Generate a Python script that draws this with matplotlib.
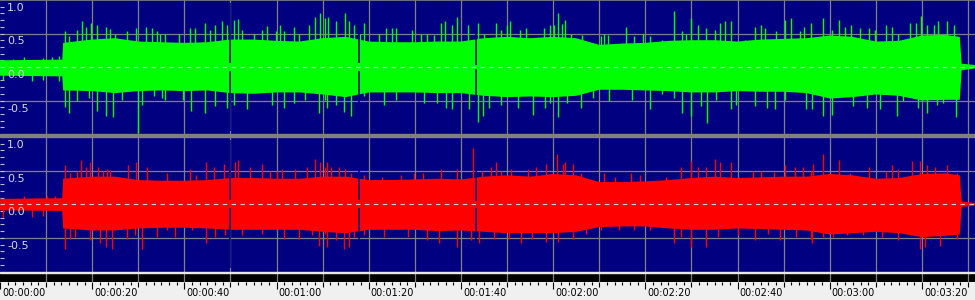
import matplotlib
matplotlib.use("Agg")
import matplotlib.pyplot as plt
import matplotlib.transforms as mtransforms
import numpy as np
from matplotlib.patches import Rectangle

# ---- data (seconds, amplitude) ----
T_END = 211.5

env_t = [0, 13.5, 13.7, 20, 25, 30, 35, 40, 45, 50, 55, 60, 65, 70, 75, 80, 85, 90, 95,
         100, 105, 110, 115, 120, 125, 130, 135, 140, 145, 150, 155, 160, 165, 170, 175,
         180, 185, 190, 195, 200, 205, 208.2, 208.6, 211.5]

left_hi = [0.10, 0.11,
           0.36, 0.41, 0.43, 0.38, 0.37, 0.36, 0.37, 0.41, 0.41, 0.39, 0.38, 0.43, 0.45,
           0.38, 0.37, 0.37, 0.38, 0.38, 0.43, 0.45, 0.43, 0.45, 0.43, 0.33, 0.35, 0.36,
           0.39, 0.40, 0.40, 0.38, 0.41, 0.42, 0.43, 0.47, 0.45, 0.38, 0.39, 0.47, 0.48, 0.45,
           0.05, 0.03]
left_lo = [-0.13, -0.14,
           -0.35, -0.36, -0.39, -0.36, -0.35, -0.36, -0.35, -0.39, -0.40, -0.38, -0.38,
           -0.41, -0.45, -0.38, -0.38, -0.38, -0.39, -0.39, -0.43, -0.45, -0.44, -0.45,
           -0.43, -0.34, -0.34, -0.35, -0.36, -0.38, -0.38, -0.36, -0.37, -0.37, -0.39,
           -0.47, -0.45, -0.41, -0.43, -0.50, -0.49, -0.49,
           -0.05, -0.02]
right_hi = [0.08, 0.09,
            0.38, 0.41, 0.41, 0.36, 0.35, 0.35, 0.36, 0.39, 0.39, 0.38, 0.38, 0.41, 0.41,
            0.36, 0.36, 0.37, 0.38, 0.37, 0.41, 0.43, 0.41, 0.45, 0.43, 0.33, 0.33, 0.34,
            0.36, 0.39, 0.41, 0.39, 0.40, 0.41, 0.41, 0.45, 0.43, 0.38, 0.39, 0.45, 0.46, 0.43,
            0.04, 0.02]
right_lo = [-0.09, -0.10,
            -0.36, -0.39, -0.39, -0.36, -0.35, -0.35, -0.36, -0.38, -0.38, -0.38, -0.38,
            -0.41, -0.43, -0.38, -0.38, -0.38, -0.40, -0.39, -0.41, -0.43, -0.43, -0.43,
            -0.41, -0.34, -0.33, -0.33, -0.36, -0.38, -0.38, -0.36, -0.37, -0.38, -0.39,
            -0.45, -0.43, -0.41, -0.43, -0.49, -0.47, -0.45,
            -0.04, -0.02]

left_peaks_up = [
    (0.7, 0.11), (2.9, 0.12), (5.1, 0.15), (9.4, 0.13), (11.2, 0.15), (12.7, 0.16),
    (14.1, 0.54), (15.0, 0.47), (16.8, 0.55), (17.7, 0.69), (18.7, 0.60), (19.7, 0.66),
    (21.0, 0.63), (23.0, 0.60), (23.9, 0.56), (24.9, 0.50), (27.5, 0.53), (29.6, 0.58),
    (31.7, 0.59), (32.9, 0.58), (34.0, 0.53), (34.7, 0.50), (35.9, 0.50), (38.8, 0.50),
    (41.3, 0.58), (42.4, 0.58), (44.5, 0.65), (45.6, 0.55), (46.7, 0.63), (48.2, 0.68),
    (49.2, 0.63), (50.7, 0.70), (51.6, 0.71), (52.5, 0.55), (55.0, 0.50), (56.8, 0.55),
    (57.9, 0.61), (59.9, 0.53), (60.8, 0.62), (61.5, 0.53), (63.7, 0.60), (64.8, 0.50),
    (67.0, 0.63), (68.4, 0.75), (69.5, 0.80), (70.6, 0.73), (71.1, 0.75), (72.8, 0.68),
    (74.8, 0.80), (75.7, 0.68), (76.8, 0.63), (78.2, 0.50), (79.0, 0.65), (82.2, 0.50),
    (83.7, 0.58), (85.1, 0.58), (86.0, 0.58), (89.4, 0.55), (91.3, 0.50), (92.7, 0.50),
    (94.1, 0.48), (95.6, 0.65), (96.5, 0.68), (98.1, 0.63), (99.1, 0.75), (101.5, 0.63),
    (103.7, 0.65), (105.0, 0.50), (107.6, 0.65), (108.7, 0.55), (109.9, 0.63), (110.6, 0.68),
    (112.7, 0.55), (114.0, 0.58), (118.1, 0.58), (119.2, 0.63), (120.2, 0.63), (121.0, 0.80),
    (121.9, 0.64), (122.6, 0.70), (123.9, 0.50), (126.2, 0.48), (130.4, 0.46), (131.1, 0.50),
    (131.8, 0.48), (135.8, 0.60), (137.6, 0.46), (139.4, 0.50), (140.9, 0.46), (143.6, 0.41),
    (146.3, 0.83), (147.9, 0.53), (148.9, 0.50), (149.8, 0.73), (151.4, 0.63), (153.2, 0.58),
    (155.0, 0.55), (156.1, 0.65), (157.3, 0.68), (158.5, 0.68), (161.5, 0.41), (163.8, 0.60),
    (165.0, 0.63), (165.9, 0.58), (168.4, 0.53), (170.3, 0.70), (171.6, 0.73), (173.5, 0.53),
    (174.5, 0.60), (175.9, 0.65), (178.6, 0.73), (180.4, 0.55), (182.1, 0.70), (183.3, 0.60),
    (184.7, 0.63), (186.6, 0.58), (188.4, 0.58), (189.8, 0.55), (192.3, 0.63), (193.6, 0.60),
    (194.9, 0.50), (197.4, 0.65), (198.8, 0.65), (199.7, 0.76), (201.0, 0.63), (202.5, 0.63),
    (203.5, 0.68), (205.4, 0.68), (206.9, 0.63)]
left_peaks_dn = [
    (0.7, -0.19), (6.9, -0.21), (9.4, -0.19), (12.7, -0.21),
    (14.1, -0.59), (15.0, -0.69), (16.8, -0.51), (19.4, -0.46), (21.0, -0.66), (23.0, -0.73),
    (24.6, -0.74), (26.4, -0.49), (29.9, -0.98), (30.9, -0.56), (33.3, -0.44), (35.1, -0.46),
    (35.9, -0.49), (39.8, -0.49), (41.5, -0.66), (44.5, -0.68), (46.7, -0.58), (49.2, -0.61),
    (50.7, -0.56), (53.6, -0.63), (59.0, -0.56), (61.5, -0.61), (63.7, -0.53), (66.2, -0.49),
    (69.1, -0.68), (70.6, -0.49), (71.0, -0.61), (72.8, -0.56), (74.6, -0.67), (76.2, -0.73),
    (79.0, -0.44), (83.3, -0.56), (85.8, -0.49), (92.0, -0.53), (94.9, -0.53), (96.7, -0.61),
    (98.1, -0.63), (101.7, -0.63), (103.7, -0.82), (104.8, -0.73), (106.1, -0.61),
    (108.7, -0.56), (112.4, -0.61), (115.7, -0.71), (118.3, -0.61), (119.2, -0.53),
    (121.0, -0.74), (123.1, -0.53), (126.0, -0.61), (128.6, -0.46), (132.2, -0.51),
    (137.2, -0.49), (141.1, -0.63), (143.6, -0.41), (146.2, -0.46), (147.9, -0.68),
    (149.8, -0.73), (152.0, -0.58), (153.4, -0.83), (155.4, -0.49), (158.5, -0.63),
    (159.7, -0.56), (163.8, -0.58), (166.4, -0.61), (168.2, -0.63), (170.3, -0.49),
    (174.8, -0.63), (176.2, -0.63), (178.6, -0.73), (180.4, -0.71), (185.1, -0.58),
    (188.0, -0.61), (190.9, -0.63), (194.5, -0.73), (195.9, -0.51), (199.2, -0.61),
    (201.0, -0.68), (203.2, -0.56), (204.6, -0.53), (207.4, -0.74)]

right_peaks_up = [
    (5.1, 0.13), (10.1, 0.13), (11.9, 0.12),
    (14.2, 0.58), (15.2, 0.46), (16.8, 0.50), (17.6, 0.66), (18.7, 0.55), (19.5, 0.63),
    (21.3, 0.55), (22.3, 0.50), (23.3, 0.53), (23.9, 0.51), (27.8, 0.58), (29.6, 0.63),
    (31.8, 0.55), (36.2, 0.46), (41.3, 0.53), (42.5, 0.43), (44.7, 0.63), (46.4, 0.55),
    (48.5, 0.60), (49.6, 0.55), (50.9, 0.63), (51.6, 0.66), (54.3, 0.55), (56.8, 0.60),
    (58.6, 0.50), (60.1, 0.50), (61.2, 0.53), (64.1, 0.53), (66.6, 0.55), (68.4, 0.68),
    (69.5, 0.63), (70.6, 0.55), (71.0, 0.63), (71.9, 0.55), (73.5, 0.55), (74.8, 0.53),
    (76.1, 0.46), (79.0, 0.43), (82.9, 0.41), (86.9, 0.43), (89.7, 0.46), (91.8, 0.46),
    (95.6, 0.53), (99.2, 0.53), (102.5, 0.84), (104.6, 0.50), (106.5, 0.55), (107.7, 0.63),
    (108.7, 0.50), (110.8, 0.53), (114.5, 0.53), (116.3, 0.55), (118.4, 0.60), (120.9, 0.74),
    (122.1, 0.60), (122.6, 0.63), (124.4, 0.60), (126.0, 0.46), (131.1, 0.46), (133.3, 0.41),
    (136.9, 0.46), (138.8, 0.43), (144.5, 0.41), (147.8, 0.55), (149.8, 0.65), (151.4, 0.55),
    (153.2, 0.55), (155.0, 0.68), (156.1, 0.63), (158.5, 0.63), (163.3, 0.50), (165.0, 0.50),
    (168.0, 0.48), (170.2, 0.58), (172.4, 0.55), (174.2, 0.55), (176.0, 0.50), (176.4, 0.60),
    (178.6, 0.74), (182.1, 0.66), (184.4, 0.46), (188.6, 0.55), (192.3, 0.50), (193.4, 0.58),
    (194.9, 0.53), (197.8, 0.64), (199.6, 0.64), (201.0, 0.58), (202.8, 0.55), (205.4, 0.58),
    (207.5, 0.46)]
right_peaks_dn = [
    (0.7, -0.19), (6.9, -0.19), (9.4, -0.18),
    (14.2, -0.67), (15.2, -0.51), (16.3, -0.49), (19.5, -0.53), (21.7, -0.58), (23.1, -0.63),
    (24.2, -0.66), (27.5, -0.51), (29.3, -0.46), (30.9, -0.66), (34.0, -0.49), (36.2, -0.39),
    (38.0, -0.49), (41.6, -0.39), (44.7, -0.58), (46.7, -0.49), (48.9, -0.46), (52.5, -0.46),
    (56.8, -0.44), (61.5, -0.51), (64.8, -0.51), (67.7, -0.46), (69.3, -0.62), (70.4, -0.44),
    (71.0, -0.63), (72.8, -0.53), (74.6, -0.66), (75.7, -0.63), (76.8, -0.49), (79.0, -0.46),
    (83.3, -0.49), (88.4, -0.49), (92.7, -0.53), (95.2, -0.58), (99.1, -0.63), (102.1, -0.53),
    (103.9, -0.58), (107.2, -0.51), (110.5, -0.51), (113.0, -0.58), (115.5, -0.51),
    (118.4, -0.56), (121.0, -0.56), (124.2, -0.51), (127.1, -0.44), (130.4, -0.39),
    (134.3, -0.39), (137.6, -0.39), (140.9, -0.39), (146.3, -0.58), (147.8, -0.49),
    (149.8, -0.63), (153.2, -0.64), (155.7, -0.49), (160.1, -0.46), (163.7, -0.53),
    (166.6, -0.44), (169.3, -0.53), (172.7, -0.49), (176.0, -0.52), (176.1, -0.58),
    (178.6, -0.49), (180.8, -0.49), (183.7, -0.46), (187.3, -0.46), (191.3, -0.49),
    (194.9, -0.53), (199.6, -0.66), (200.7, -0.63), (203.9, -0.62), (207.5, -0.51)]

# short quiet moments inside the loud part: (time, remaining amplitude)
left_gaps = [(50.0, 0.06), (77.9, 0.06), (103.3, 0.03)]
right_gaps = [(50.0, 0.06), (77.9, 0.06), (103.2, 0.05)]

amp_labels = ["1.0", "0.5", "0.0", "-0.5"]
amp_values = [1.0, 0.5, 0.0, -0.5]
time_labels = ["00:00:00", "00:00:20", "00:00:40", "00:01:00", "00:01:20", "00:01:40",
               "00:02:00", "00:02:20", "00:02:40", "00:03:00", "00:03:20"]
time_values = [0, 20, 40, 60, 80, 100, 120, 140, 160, 180, 200]

NAVY = "#000080"
GRID = "#808080"

W, H = 975, 300
fig = plt.figure(figsize=(W / 100, H / 100), dpi=100)
fig.patch.set_facecolor("#f0f0f0")


def fy(y):
    return 1 - y / H


def draw_channel(ax, color, hi, lo, ups, dns, gaps):
    ax.set_facecolor(NAVY)
    ax.set_xlim(0, T_END)
    ax.set_ylim(-1, 1)
    for s in ax.spines.values():
        s.set_visible(False)
    ax.set_xticks([])
    ax.set_yticks(np.round(np.arange(-0.9, 1.0, 0.1), 1))
    ax.set_yticklabels([])
    ax.tick_params(axis="y", direction="in", length=3, width=0.8, color="#c0c0c0", pad=0)
    for t in range(10, 220, 10):
        ax.axvline(t, color=GRID, lw=0.9, zorder=1)
    for v in (1.0, 0.5, -0.5):
        ax.axhline(v, color=GRID, lw=1.2 if v == 1.0 else 0.9, zorder=1)

    ax.fill_between(env_t, lo, hi, color=color, lw=0, zorder=2)
    ut, uv = zip(*ups)
    dt, dv = zip(*dns)
    ax.vlines(ut, 0, uv, color=color, lw=1.0, zorder=2)
    ax.vlines(dt, 0, dv, color=color, lw=1.0, zorder=2)
    gt, gv = zip(*gaps)
    ax.vlines(gt, gv, 0.95, color=NAVY, lw=1.1, zorder=2.5)
    ax.vlines(gt, -0.95, [-g for g in gv], color=NAVY, lw=1.1, zorder=2.5)
    ax.axhline(0, color="#d0d0d0", lw=0.8, dashes=(4, 4), zorder=3)

    tr = mtransforms.offset_copy(
        mtransforms.blended_transform_factory(ax.transAxes, ax.transData),
        fig=fig, x=0, y=-3, units="dots")
    for lab, v in zip(amp_labels, amp_values):
        ax.text(7 / W, v, lab, transform=tr, ha="left", va="top",
                color="#d8d8d8", fontsize=8, zorder=4)


ax_top = fig.add_axes([0, fy(134), 1, 134 / H])
ax_bot = fig.add_axes([0, fy(271.5), 1, (271.5 - 137) / H])
draw_channel(ax_top, "#00ff00", left_hi, left_lo, left_peaks_up, left_peaks_dn, left_gaps)
draw_channel(ax_bot, "#ff0000", right_hi, right_lo, right_peaks_up, right_peaks_dn, right_gaps)

# separator between the channels, black band and ruler
fig.patches.append(Rectangle((0, fy(137)), 1, 3 / H, transform=fig.transFigure,
                             color=GRID, zorder=5))
fig.patches.append(Rectangle((0, fy(273)), 1, 1.5 / H, transform=fig.transFigure,
                             color="#e8e8e8", zorder=5))

ax_band = fig.add_axes([0, fy(282), 1, 9 / H])
ax_band.set_xlim(0, T_END)
ax_band.set_ylim(0, 1)
ax_band.axis("off")
ax_band.add_patch(Rectangle((0, 0), T_END, 1, color="black", zorder=0))
for t in range(10, 220, 10):
    ax_band.axvline(t, color=GRID, lw=0.9, zorder=1)

ax_rul = fig.add_axes([0, 0, 1, 18 / H])
ax_rul.set_xlim(0, T_END)
ax_rul.set_ylim(18, 0)
ax_rul.axis("off")
for k in range(0, 128):
    t = k * 20 / 12
    if k % 12 == 0:
        ln = 6.5
    elif k % 6 == 0:
        ln = 5
    else:
        ln = 2.5
    ax_rul.vlines(t, 0, ln, color="black", lw=0.8)
for lab, t in zip(time_labels, time_values):
    ax_rul.text(t + 0.45, 11.5, lab, ha="left", va="center", fontsize=7, color="black")

fig.savefig("out.png", dpi=100, facecolor=fig.get_facecolor())
